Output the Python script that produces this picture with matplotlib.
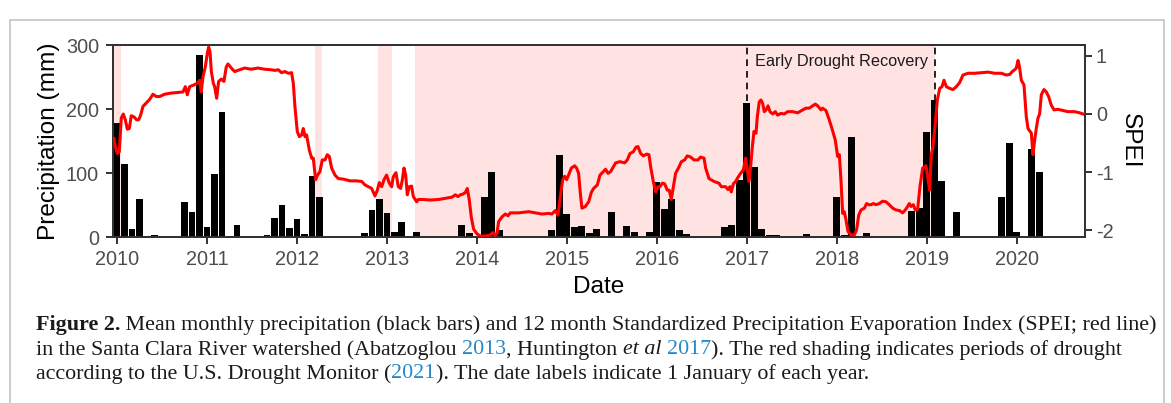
import matplotlib
matplotlib.use("Agg")
import matplotlib.pyplot as plt
from matplotlib.lines import Line2D
import numpy as np

plt.rcParams['font.family'] = ['Liberation Sans', 'DejaVu Sans']
plt.rcParams['axes.unicode_minus'] = False

# monthly precipitation (mm), Jan 2010 - Sep 2020
precip = [
    178, 114, 13, 59, 2, 4, 0, 0, 0, 55, 40, 284,      # 2010
    16, 99, 196, 2, 19, 2, 1, 0, 4, 30, 50, 14,        # 2011
    28, 5, 95, 63, 0, 0, 0, 1, 0, 7, 43, 60,           # 2012
    38, 8, 24, 2, 8, 0, 1, 0, 0, 2, 19, 7,             # 2013
    0, 63, 102, 11, 0, 0, 0, 1, 0, 0, 11, 128,         # 2014
    36, 16, 18, 7, 13, 2, 39, 0, 18, 8, 2, 8,          # 2015
    86, 44, 59, 12, 5, 0, 0, 0, 0, 16, 19, 89,         # 2016
    210, 109, 13, 4, 4, 0, 0, 0, 5, 0, 0, 0,           # 2017
    63, 4, 157, 0, 7, 0, 0, 0, 0, 2, 41, 45,           # 2018
    165, 214, 88, 0, 40, 1, 0, 0, 0, 0, 63, 147,       # 2019
    8, 1, 138, 102, 2, 0, 0, 0, 0,                     # 2020
]
month_t = [2010 + i / 12 for i in range(len(precip))]

# 12 month SPEI (decimal year, value)
spei_t = [
    2009.967, 2009.982, 2010.004, 2010.026, 2010.048, 2010.070, 2010.093, 2010.115, 2010.137, 2010.159,
    2010.189, 2010.219, 2010.241, 2010.263, 2010.289, 2010.326, 2010.363, 2010.400, 2010.437, 2010.474,
    2010.530, 2010.604, 2010.678, 2010.734, 2010.760, 2010.782, 2010.808, 2010.856, 2010.893, 2010.919,
    2010.937, 2010.956, 2010.982, 2011.004, 2011.019, 2011.034, 2011.049, 2011.071, 2011.086, 2011.108,
    2011.130, 2011.160, 2011.189, 2011.215, 2011.234, 2011.271, 2011.308, 2011.363, 2011.419, 2011.493,
    2011.567, 2011.641, 2011.715, 2011.756, 2011.793, 2011.830, 2011.867, 2011.904, 2011.941, 2011.960,
    2011.978, 2012.004, 2012.027, 2012.053, 2012.071, 2012.090, 2012.108, 2012.138, 2012.164, 2012.182,
    2012.208, 2012.230, 2012.256, 2012.282, 2012.312, 2012.338, 2012.360, 2012.386, 2012.423, 2012.460,
    2012.516, 2012.590, 2012.664, 2012.720, 2012.757, 2012.794, 2012.831, 2012.868, 2012.894, 2012.916,
    2012.942, 2012.968, 2012.997, 2013.027, 2013.053, 2013.071, 2013.101, 2013.127, 2013.153, 2013.172,
    2013.190, 2013.209, 2013.227, 2013.249, 2013.275, 2013.294, 2013.331, 2013.349, 2013.405, 2013.479,
    2013.575, 2013.649, 2013.724, 2013.761, 2013.790, 2013.816, 2013.842, 2013.872, 2013.894, 2013.916,
    2013.938, 2013.964, 2014.001, 2014.038, 2014.094, 2014.150, 2014.176, 2014.205, 2014.224, 2014.242,
    2014.279, 2014.316, 2014.346, 2014.372, 2014.464, 2014.576, 2014.650, 2014.724, 2014.798, 2014.835,
    2014.872, 2014.902, 2014.928, 2014.954, 2014.976, 2014.998, 2015.020, 2015.050, 2015.087, 2015.109,
    2015.131, 2015.150, 2015.168, 2015.206, 2015.243, 2015.272, 2015.298, 2015.339, 2015.369, 2015.406,
    2015.431, 2015.457, 2015.487, 2015.517, 2015.543, 2015.591, 2015.643, 2015.672, 2015.702, 2015.739,
    2015.769, 2015.791, 2015.821, 2015.850, 2015.887, 2015.913, 2015.932, 2015.961, 2015.987, 2016.013,
    2016.035, 2016.061, 2016.087, 2016.117, 2016.139, 2016.161, 2016.184, 2016.209, 2016.247, 2016.273,
    2016.310, 2016.339, 2016.376, 2016.413, 2016.458, 2016.487, 2016.525, 2016.543, 2016.580, 2016.636,
    2016.691, 2016.717, 2016.765, 2016.791, 2016.813, 2016.828, 2016.851, 2016.877, 2016.902, 2016.932,
    2016.962, 2016.988, 2017.006, 2017.025, 2017.043, 2017.062, 2017.080, 2017.103, 2017.117, 2017.139,
    2017.158, 2017.177, 2017.195, 2017.214, 2017.236, 2017.258, 2017.288, 2017.317, 2017.343, 2017.380,
    2017.417, 2017.454, 2017.510, 2017.566, 2017.621, 2017.658, 2017.695, 2017.732, 2017.762, 2017.788,
    2017.825, 2017.843, 2017.880, 2017.910, 2017.947, 2017.984, 2018.010, 2018.029, 2018.047, 2018.066,
    2018.084, 2018.103, 2018.125, 2018.158, 2018.195, 2018.221, 2018.244, 2018.270, 2018.307, 2018.332,
    2018.355, 2018.381, 2018.407, 2018.436, 2018.473, 2018.510, 2018.547, 2018.584, 2018.622, 2018.659,
    2018.696, 2018.733, 2018.762, 2018.788, 2018.807, 2018.825, 2018.851, 2018.873, 2018.899, 2018.925,
    2018.955, 2018.992, 2019.033, 2019.051, 2019.070, 2019.096, 2019.118, 2019.144, 2019.170, 2019.192,
    2019.218, 2019.255, 2019.292, 2019.329, 2019.366, 2019.403, 2019.459, 2019.533, 2019.607, 2019.681,
    2019.755, 2019.829, 2019.885, 2019.922, 2019.952, 2019.977, 2019.996, 2020.015, 2020.029, 2020.052,
    2020.081, 2020.107, 2020.126, 2020.144, 2020.163, 2020.181, 2020.200, 2020.218, 2020.237, 2020.255,
    2020.274, 2020.303, 2020.329, 2020.355, 2020.385, 2020.415, 2020.459, 2020.515, 2020.570, 2020.644,
    2020.700, 2020.737,
]
spei_v = [
    -0.42, -0.56, -0.68, -0.65, -0.07, 0.00, -0.10, -0.26, -0.25, -0.03,
    -0.05, -0.10, -0.10, -0.02, 0.13, 0.19, 0.25, 0.34, 0.30, 0.30,
    0.34, 0.36, 0.37, 0.38, 0.47, 0.33, 0.47, 0.50, 0.53, 0.58,
    0.38, 0.64, 0.81, 1.04, 1.15, 1.07, 0.73, 0.53, 0.47, 0.27,
    0.56, 0.60, 0.56, 0.81, 0.86, 0.79, 0.73, 0.76, 0.79, 0.77,
    0.79, 0.77, 0.76, 0.75, 0.76, 0.71, 0.73, 0.70, 0.71, 0.53,
    0.13, -0.30, -0.39, -0.36, -0.25, -0.39, -0.36, -0.62, -0.76, -0.76,
    -1.13, -1.05, -0.99, -0.79, -0.79, -0.70, -0.73, -0.93, -1.05, -1.11,
    -1.12, -1.15, -1.15, -1.16, -1.22, -1.25, -1.28, -1.41, -1.31, -1.18,
    -1.25, -1.13, -1.05, -1.19, -1.25, -1.08, -1.01, -1.25, -1.28, -1.13,
    -0.93, -1.05, -1.39, -1.25, -1.24, -1.42, -1.51, -1.47, -1.47, -1.48,
    -1.47, -1.45, -1.43, -1.39, -1.42, -1.39, -1.38, -1.35, -1.28, -1.48,
    -1.77, -1.98, -2.06, -2.10, -2.10, -2.08, -2.04, -2.09, -2.05, -1.85,
    -1.77, -1.72, -1.75, -1.70, -1.70, -1.68, -1.70, -1.72, -1.71, -1.72,
    -1.66, -1.74, -1.42, -1.13, -1.07, -1.13, -1.05, -0.93, -0.89, -0.93,
    -1.02, -1.36, -1.62, -1.59, -1.51, -1.35, -1.28, -1.22, -1.05, -0.99,
    -0.95, -1.02, -0.99, -0.91, -0.84, -0.82, -0.84, -0.79, -0.68, -0.65,
    -0.57, -0.56, -0.68, -0.72, -0.69, -0.70, -0.91, -1.16, -1.34, -1.25,
    -1.25, -1.19, -1.20, -1.31, -1.31, -1.47, -1.25, -1.02, -0.91, -0.82,
    -0.79, -0.72, -0.74, -0.79, -0.79, -0.74, -0.76, -0.93, -1.11, -1.16,
    -1.19, -1.25, -1.25, -1.30, -1.25, -1.34, -1.20, -1.16, -1.09, -1.02,
    -0.96, -0.76, -0.96, -1.16, -0.91, -0.56, -0.30, -0.33, -0.05, 0.21,
    0.24, 0.18, 0.04, 0.07, 0.14, 0.04, 0.00, 0.04, -0.02, 0.01,
    0.00, 0.04, 0.04, 0.02, 0.07, 0.10, 0.10, 0.14, 0.17, 0.14,
    0.07, 0.10, 0.06, -0.07, -0.25, -0.45, -0.73, -0.70, -1.13, -1.71,
    -1.68, -1.82, -2.02, -2.08, -2.08, -1.99, -1.74, -1.65, -1.62, -1.54,
    -1.56, -1.56, -1.54, -1.56, -1.54, -1.50, -1.51, -1.56, -1.62, -1.65,
    -1.66, -1.70, -1.65, -1.59, -1.54, -1.59, -1.56, -1.65, -1.64, -1.25,
    -0.93, -0.89, -1.31, -0.70, -0.56, -0.16, 0.24, 0.44, 0.47, 0.58,
    0.47, 0.44, 0.42, 0.47, 0.54, 0.67, 0.70, 0.70, 0.71, 0.72,
    0.70, 0.70, 0.67, 0.68, 0.73, 0.76, 0.79, 0.92, 0.83, 0.58,
    0.50, -0.05, -0.25, -0.29, -0.33, -0.70, -0.45, -0.25, -0.07, 0.00,
    0.33, 0.42, 0.38, 0.30, 0.15, 0.07, 0.08, 0.06, 0.04, 0.04,
    0.02, 0.00,
]

# drought periods (U.S. Drought Monitor), decimal years
drought_start = [2009.90, 2012.201, 2012.905, 2013.312]
drought_end = [2010.041, 2012.275, 2013.053, 2019.089]
recovery = [2017.008, 2019.087]
years = list(range(2010, 2021))

fig = plt.figure(figsize=(11.71, 4.03), dpi=100)
ax = fig.add_axes([0.0965, 0.4112, 0.8298, 0.4771])

for s, e in zip(drought_start, drought_end):
    ax.axvspan(s, e, color='red', alpha=0.11, lw=0, zorder=0)

ax.bar(month_t, precip, width=0.075, color='black', zorder=2)
ax.set_xlim(2009.956, 2020.756)
ax.set_ylim(0, 300)
ax.set_yticks([0, 100, 200, 300])
ax.set_xticks(years)
ax.set_xticklabels([str(y) for y in years])

for xv in recovery:
    ax.plot([xv, xv], [212, 300], ls=(0, (4, 3)), color='black', lw=1.2, zorder=3)
ax.text(sum(recovery) / 2, 275, 'Early Drought Recovery', ha='center', va='center',
        fontsize=11.7, color='#1a1a1a', zorder=4)

ax2 = ax.twinx()
ax2.plot(spei_t, spei_v, color='red', lw=2.2, zorder=5)
ax2.set_ylim(-2.12, 1.186)
ax2.set_yticks([-2, -1, 0, 1])

for a in (ax, ax2):
    for sp in a.spines.values():
        sp.set_color('#333333')
        sp.set_linewidth(1.4)
    a.tick_params(length=5, width=1.4, color='#333333', labelsize=14.3, labelcolor='#4d4d4d', pad=3)
ax.tick_params(axis='x', pad=4)
ax.tick_params(axis='y', pad=5)

ax.set_ylabel('Precipitation (mm)', fontsize=17.6, labelpad=4)
ax.set_xlabel('Date', fontsize=17.6, labelpad=5)
ax2.set_ylabel('SPEI', fontsize=17.6, rotation=270, va='bottom', labelpad=4)

# frame around the figure panel
W, H = 1171, 403
frame_kw = dict(color='#c8c8c8', lw=1.3, transform=fig.transFigure)
fig.add_artist(Line2D([10 / W, 10 / W], [0, 1 - 20 / H], **frame_kw))
fig.add_artist(Line2D([1164 / W, 1164 / W], [0, 1 - 20 / H], **frame_kw))
fig.add_artist(Line2D([10 / W, 1164 / W], [1 - 20 / H, 1 - 20 / H], **frame_kw))

# caption with mixed styles
blue = '#2589c9'
cap_kw = dict(family=['Liberation Serif', 'DejaVu Serif'], fontsize=15.8, color='#1a1a1a')
lines = [
    [("Figure 2.", dict(weight='bold')),
     (" Mean monthly precipitation (black bars) and 12 month Standardized Precipitation Evaporation Index (SPEI; red line)", {})],
    [("in the Santa Clara River watershed (Abatzoglou ", {}), ("2013", dict(color=blue)),
     (", Huntington ", {}), ("et al", dict(style='italic')), (" ", {}), ("2017", dict(color=blue)),
     ("). The red shading indicates periods of drought", {})],
    [("according to the U.S. Drought Monitor (", {}), ("2021", dict(color=blue)),
     ("). The date labels indicate 1 January of each year.", {})],
]
renderer = fig.canvas.get_renderer()


def run_width(s, kw):
    t1 = fig.text(0, 0, 'x' + s + 'x', **kw)
    t2 = fig.text(0, 0, 'xx', **kw)
    w = t1.get_window_extent(renderer).width - t2.get_window_extent(renderer).width
    t1.remove()
    t2.remove()
    return w


line_y = [325, 350, 374]
for runs, yp in zip(lines, line_y):
    xp = 36
    for s, extra in runs:
        kw = dict(cap_kw)
        kw.update(extra)
        fig.text(xp / W, 1 - yp / H, s, va='center', ha='left', **kw)
        xp += run_width(s, kw)

fig.savefig('out.png', dpi=100)
